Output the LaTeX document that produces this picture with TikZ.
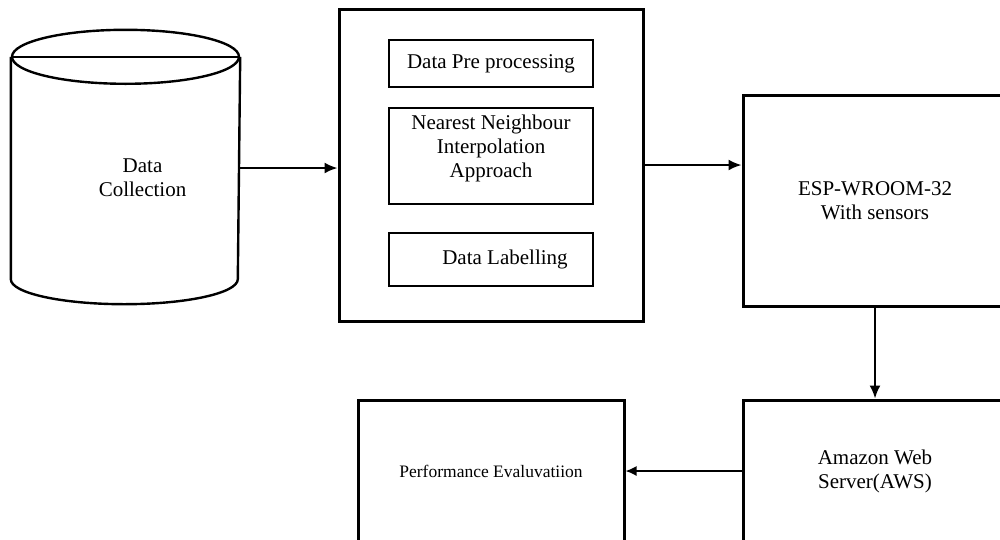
\documentclass[tikz,border=0pt]{standalone}
\usepackage{fontspec}
\setmainfont{Liberation Serif}
\usetikzlibrary{arrows.meta}
\newcommand{\boxfont}{\fontsize{21}{24}\selectfont}
\newcommand{\smallboxfont}{\fontsize{17.5}{21}\selectfont}

\begin{document}
\begin{tikzpicture}[x=1pt,y=-1pt,line width=2.4pt]
\tikzstyle{block}=[draw,line width=3pt,font=\boxfont,align=center,inner sep=0pt]
\tikzstyle{inblock}=[block,line width=2.8pt,minimum width=204pt]
\tikzstyle{flow}=[-{Latex[length=13pt,width=11pt]},line width=2pt]

\clip (0,0) rectangle (1000,539);

\node [minimum width=227pt,minimum height=220pt,inner sep=0pt,
  label={[font=\boxfont,align=center,xshift=17pt,yshift=-10pt]center:Data\\Collection}] (collect) at (125.5,168) {};
\draw (collect.north west) -- (collect.south west)
  arc[start angle=180,end angle=360,x radius=113.5pt,y radius=25pt] -- (collect.north east);
\draw (collect.north) ellipse [x radius=113.5pt,y radius=27pt];
\draw (collect.north west) -- (collect.north east);

\node [block,minimum width=304pt,minimum height=312pt] (proc) at (491,165) {};
\node [inblock,minimum height=47pt] (prep) at (491,63.5) {Data Pre processing};
\node [inblock,minimum height=96pt,
  label={[font=\boxfont,align=center,yshift=8pt]center:Nearest Neighbour\\Interpolation\\Approach}] (interp) at (491,156) {};
\node [inblock,minimum height=53pt,
  label={[font=\boxfont,xshift=14pt]center:Data Labelling}] (labelling) at (491,259.5) {};

\node [block,minimum width=264pt,minimum height=211pt] (esp) at (875,200.5) {ESP-WROOM-32\\With sensors};
\node [block,minimum width=264pt,minimum height=142pt] (aws) at (875,471) {Amazon Web\\Server(AWS)};
\node [block,minimum width=266pt,minimum height=142pt,font=\smallboxfont] (perf) at (491,471) {Performance Evaluvatiion};

\draw [flow] (collect.east) -- (collect.east -| proc.west);
\draw [flow] (proc.east) -- (proc.east -| esp.west);
\draw [flow] (esp.south) -- (aws.north);
\draw [flow,-{Latex[length=11pt,width=10pt]},line width=1.6pt] (aws.west) -- (perf.east);
\end{tikzpicture}
\end{document}
